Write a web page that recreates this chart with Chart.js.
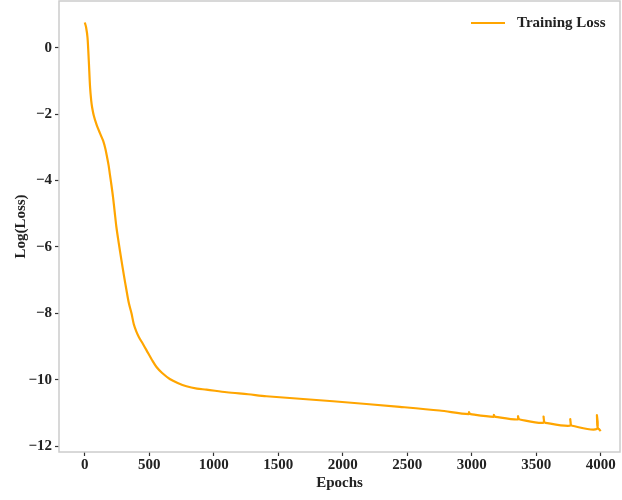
<!DOCTYPE html>
<html>
<head>
<meta charset="utf-8">
<script src="https://cdn.jsdelivr.net/npm/chart.js@4"></script>
<style>
  html, body { margin: 0; padding: 0; background: #fff; }
  #wrap { width: 622px; height: 500px; }
</style>
</head>
<body>
<div id="wrap"><canvas id="lossChart"></canvas></div>
<script>
const epochs = [0, 10, 21, 31, 41, 50, 57, 70, 90, 115, 142, 160, 173, 185, 194, 207, 219, 232, 245, 264,
    284, 303, 323, 342, 362, 380, 400, 420, 450, 478, 520, 556, 600, 659, 720, 788, 870, 943, 1100, 1266,
    1408, 1925, 2442, 2750, 2977, 2979, 2984, 2992, 3170, 3172, 3177, 3186, 3357, 3359, 3364, 3373,
    3555, 3557, 3562, 3572, 3762, 3764, 3769, 3779, 3969, 3971, 3974, 3980, 3990, 4000];
const trainingLoss = [0.76, 0.62, 0.31, -0.39, -1.19, -1.6, -1.8, -2.05, -2.3, -2.55, -2.8, -3.05, -3.3, -3.55, -3.8, -4.15, -4.5, -4.95, -5.4, -5.9,
    -6.4, -6.85, -7.3, -7.7, -8.0, -8.33, -8.55, -8.72, -8.92, -9.11, -9.4, -9.62, -9.8, -9.98, -10.1, -10.2, -10.27, -10.3, -10.38, -10.44,
    -10.5, -10.65, -10.82, -10.93, -11.04, -10.98, -11.02, -11.04, -11.12, -11.06, -11.1, -11.12, -11.2, -11.1, -11.17, -11.2,
    -11.3, -11.11, -11.26, -11.3, -11.39, -11.19, -11.35, -11.39, -11.49, -11.07, -11.38, -11.47, -11.5, -11.55];
const xTicks = [0, 500, 1000, 1500, 2000, 2500, 3000, 3500, 4000];
const yTicks = [-12, -10, -8, -6, -4, -2, 0];

const FONT = "'Liberation Serif', 'Times New Roman', serif";
const tickFont = { family: FONT, size: 15, weight: "bold" };
const TEXT = "#222222";

// light gray frame round the plot area + legend in the top right corner
const frame = {
    id: "frame",
    afterDraw(chart) {
        const a = chart.chartArea, ctx = chart.ctx;
        ctx.save();
        ctx.strokeStyle = "#cccccc";
        ctx.lineWidth = 1.5;
        ctx.strokeRect(a.left, a.top, a.right - a.left, a.bottom - a.top);

        const ds = chart.data.datasets[0];
        const y = a.top + 22;
        ctx.strokeStyle = ds.borderColor;
        ctx.lineWidth = 2.2;
        ctx.beginPath();
        ctx.moveTo(a.right - 149, y);
        ctx.lineTo(a.right - 115, y);
        ctx.stroke();
        ctx.fillStyle = TEXT;
        ctx.font = "bold 15px " + FONT;
        ctx.textBaseline = "middle";
        ctx.textAlign = "left";
        ctx.fillText(ds.label, a.right - 103, y);
        ctx.restore();
    }
};

new Chart(document.getElementById("lossChart"), {
    type: "line",
    data: {
        datasets: [{
            label: "Training Loss",
            data: epochs.map((e, i) => ({ x: e, y: trainingLoss[i] })),
            borderColor: "#FFA500",
            backgroundColor: "#FFA500",
            borderWidth: 2.2,
            pointRadius: 0,
            tension: 0.3
        }]
    },
    options: {
        responsive: true,
        maintainAspectRatio: false,
        animation: false,
        layout: { padding: { top: 1, right: 2, left: 0, bottom: 0 } },
        plugins: {
            legend: { display: false },
            tooltip: { enabled: false }
        },
        scales: {
            x: {
                type: "linear",
                min: -200,
                max: 4150,
                afterBuildTicks: s => { s.ticks = xTicks.map(v => ({ value: v })); },
                afterFit: s => { s.height = 48; },
                grid: { drawOnChartArea: false, tickLength: 4, tickColor: "#333", tickWidth: 1.2 },
                border: { display: false },
                ticks: { color: TEXT, font: tickFont, padding: 0, maxRotation: 0, callback: v => String(v) },
                title: { display: true, text: "Epochs", color: TEXT, font: tickFont, padding: 8 }
            },
            y: {
                min: -12.18,
                max: 1.41,
                afterBuildTicks: s => { s.ticks = yTicks.map(v => ({ value: v })); },
                afterFit: s => { s.paddingTop = 0; s.paddingBottom = 0; s.width = 59; },
                grid: { drawOnChartArea: false, tickLength: 4, tickColor: "#333", tickWidth: 1.2 },
                border: { display: false },
                ticks: {
                    color: TEXT, font: tickFont, padding: 3,
                    callback: v => String(v).replace("-", "\u2212")
                },
                title: { display: true, text: "Log(Loss)", color: TEXT, font: tickFont, padding: 12 }
            }
        }
    },
    plugins: [frame]
});
</script>
</body>
</html>
